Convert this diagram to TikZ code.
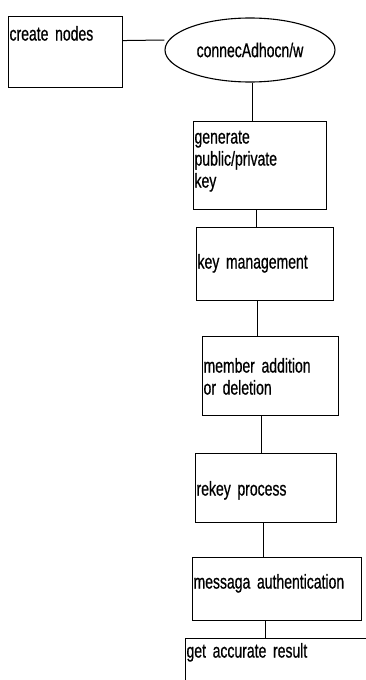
\documentclass[tikz,border=0pt]{standalone}
\usepackage{fontspec}
\setmainfont{Liberation Sans}[FakeStretch=0.7, FakeBold=0.6]
\usetikzlibrary{shapes.geometric}

\begin{document}
\begin{tikzpicture}[x=1pt, y=-1pt, line width=1pt,
  stage/.style={draw, line width=1.1pt, anchor=north west, align=left, inner xsep=1pt, inner ysep=0pt},
  link/.style={line width=1pt}]
\clip (0,0) rectangle (366,680);
\fill[white] (0,0) rectangle (366,680);
\fontsize{20}{22}\selectfont

\node[stage, text width=112pt, text height=24pt, text depth=47pt] (create) at (8,16) {create nodes};
\node[draw, ellipse, line width=1.1pt, minimum width=170pt, minimum height=64pt, inner sep=0pt] (conn) at (250,50) {connecAdhocn/w};
\node[stage, text width=131pt, text height=22pt, text depth=66pt] (gen) at (193,121) {generate\\public/private\\key};
\node[stage, text width=135pt, text height=41pt, text depth=32pt] (keym) at (196,227) {key management};
\node[stage, text width=134pt, text height=36pt, text depth=43pt] (member) at (202,336) {member addition\\or deletion};
\node[stage, text width=139pt, text height=42pt, text depth=27pt] (rekey) at (195,453) {rekey process};
\node[stage, text width=167pt, text height=31pt, text depth=32pt] (auth) at (192,557) {messaga authentication};
\node[stage, text width=210pt, text height=19pt, text depth=60pt] (result) at (185,638) {get accurate result};

\draw[link] ([yshift=11.5pt]create.east) -- ([yshift=10pt]conn.west);
\foreach \a/\b/\s in {conn/gen/2,gen/keym/-3.5,keym/member/-7.5,member/rekey/-9,rekey/auth/-2.5,auth/result/-11.5}{\draw[link] ([xshift=\s pt]\a.south) -- ([xshift=\s pt]\a.south |- \b.north);}

\end{tikzpicture}
\end{document}
